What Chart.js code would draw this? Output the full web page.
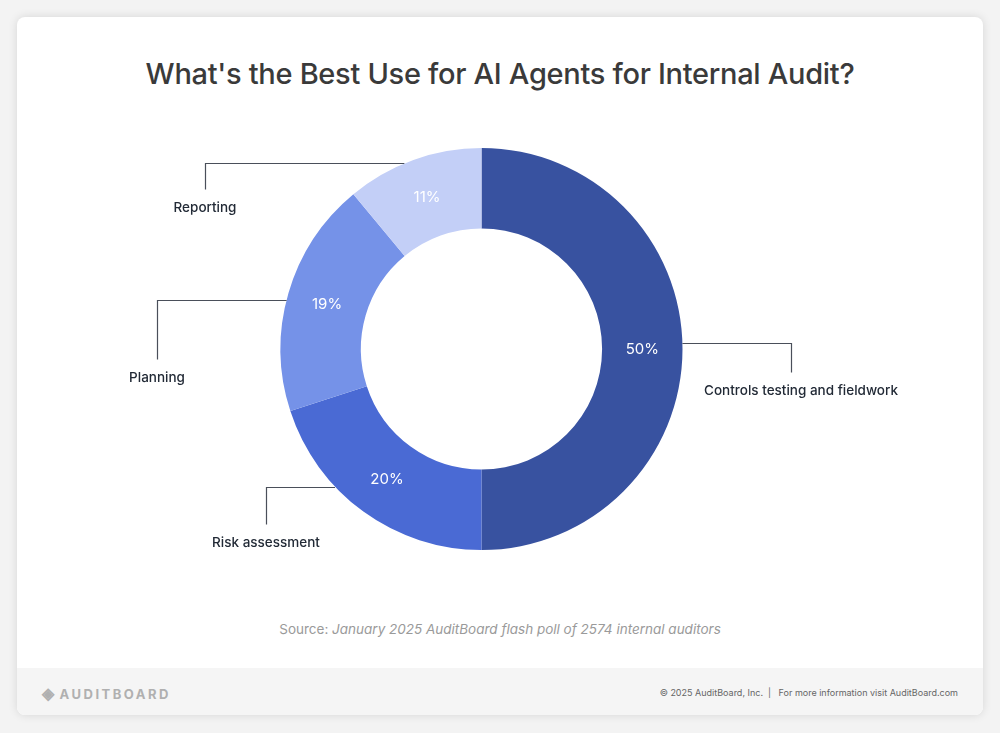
<!DOCTYPE html>
<html><head><meta charset="utf-8">
<script src="https://cdn.jsdelivr.net/npm/chart.js@4"></script>
<style>
html,body{margin:0;padding:0;background:#f3f3f3;width:1000px;height:733px;overflow:hidden;font-family:Inter,"Noto Sans",sans-serif}
#card{position:absolute;left:17px;top:17px;width:966px;height:698px;background:#fff;border-radius:8px;box-shadow:0 0 10px rgba(0,0,0,0.12);overflow:hidden}
#title{position:absolute;left:0;width:1000px;top:56px;text-align:center;font-size:29px;font-weight:500;color:#3a3a3a;letter-spacing:-0.3px}
#src{position:absolute;left:0;width:1000px;top:621px;text-align:center;font-size:13.5px;color:#9a9a9a}
#foot{position:absolute;left:0;top:651px;width:966px;height:47px;background:#f5f5f5}
#logo{position:absolute;left:42px;top:683px;font-size:13px;font-weight:700;letter-spacing:2.5px;color:#b0b0b0}
#copy{position:absolute;right:42px;top:687px;font-size:9px;color:#666}
canvas{position:absolute;left:0;top:0}
</style></head><body>
<div id="card"><div id="foot"></div></div>
<div id="title">What's the Best Use for AI Agents for Internal Audit?</div>
<div id="src">Source: <i>January 2025 AuditBoard flash poll of 2574 internal auditors</i></div>
<div id="logo"><span style="font-size:16px;letter-spacing:0">◈</span> AUDITBOARD</div>
<div id="copy">© 2025 AuditBoard, Inc. &nbsp;| &nbsp; For more information visit AuditBoard.com</div>
<canvas id="c" width="1000" height="733"></canvas>
<script>
const categories=["Controls testing and fieldwork","Risk assessment","Planning","Reporting"];
const values=[50,20,19,11];
const colors=["#3852A0","#4A6AD4","#7592E8","#C3CFF7"];
const leaderX=[791,266,157,205];
const leaderDrop=[29,37,59,26];
const anchorFrac=[0.49,0.65,0.47,0.43];
const labelPlugin={id:'lbl',afterDatasetsDraw(chart){
 const ctx=chart.ctx;const meta=chart.getDatasetMeta(0);
 meta.data.forEach((arc,i)=>{
  const p=arc.getProps(['x','y','startAngle','endAngle','innerRadius','outerRadius'],true);
  const a=(p.startAngle+p.endAngle)/2;const rm=(p.innerRadius+p.outerRadius)/2;
  ctx.save();
  ctx.fillStyle='#fff';ctx.font='15px Inter';ctx.textAlign='center';ctx.textBaseline='middle';
  ctx.fillText(values[i]+'%',p.x+Math.cos(a)*rm,p.y+Math.sin(a)*rm);
  const b=p.startAngle+(p.endAngle-p.startAngle)*anchorFrac[i];
  const ax=p.x+Math.cos(b)*p.outerRadius,ay=Math.round(p.y+Math.sin(b)*p.outerRadius)+0.5;
  ctx.strokeStyle='#4a4f5a';ctx.lineWidth=1.2;ctx.beginPath();
  ctx.moveTo(ax,ay);ctx.lineTo(leaderX[i]+0.5,ay);ctx.lineTo(leaderX[i]+0.5,ay+leaderDrop[i]);ctx.stroke();
  ctx.fillStyle='#222a36';ctx.font='500 13.5px Inter';
  ctx.fillText(categories[i],(i===0?leaderX[i]+10:leaderX[i]),ay+leaderDrop[i]+18);
  ctx.restore();
 });
}};
new Chart(document.getElementById('c'),{type:'doughnut',
 data:{labels:categories,datasets:[{data:values,backgroundColor:colors,borderWidth:0}]},
 options:{responsive:false,animation:false,cutout:'60%',
  layout:{padding:{left:280,right:317,top:148,bottom:183}},
  plugins:{legend:{display:false},tooltip:{enabled:false}}},
 plugins:[labelPlugin]});
</script></body></html>
